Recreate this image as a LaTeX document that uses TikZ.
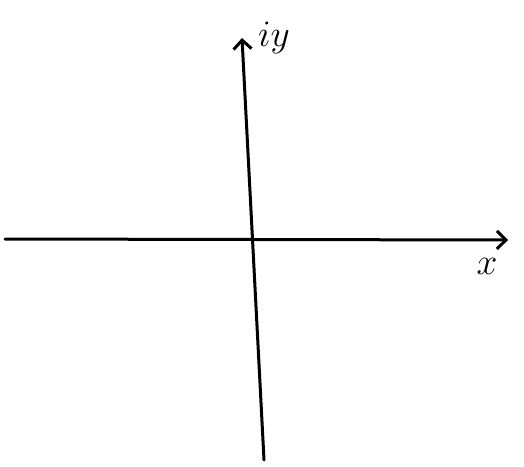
\documentclass[tikz,border=0pt]{standalone}
\usetikzlibrary{arrows.meta}
\begin{document}
\begin{tikzpicture}[x=1pt,y=-1pt,
  axis/.style={line width=3pt, line cap=round, -{Straight Barb[length=9pt,width=18pt,line width=3pt]}},
  lbl/.style={font=\fontsize{24.88}{26}\selectfont, scale=1.5}]
\useasboundingbox (0,0) rectangle (524,466);
\coordinate (xl) at (5,239);
\coordinate (xr) at (508,240);
\coordinate (yb) at (264,460);
\coordinate (yt) at (242,38);
\draw[axis] (xl) -- (xr);
\draw[axis] (yb) -- (yt);
\node[lbl] (iy) at (274,38) {$iy$};
\node[lbl] (x) at (487,266) {$x$};
\end{tikzpicture}
\end{document}
